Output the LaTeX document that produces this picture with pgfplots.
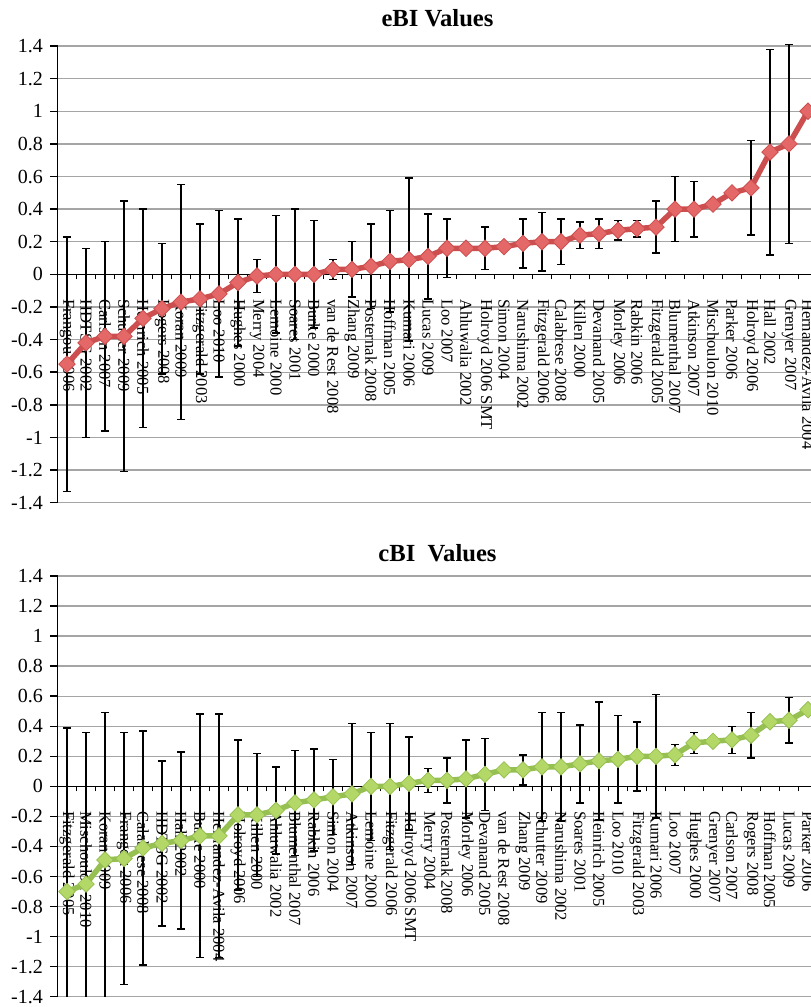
\documentclass[border=0pt]{standalone}
\usepackage{fontspec}
\setmainfont{Liberation Serif}
\usepackage{pgfplots}
\usepackage{pgfplotstable}
\pgfplotsset{compat=1.18}
\definecolor{redline}{RGB}{205,78,78}
\definecolor{redfill}{RGB}{228,104,104}
\definecolor{greenline}{RGB}{150,192,82}
\definecolor{greenfill}{RGB}{180,216,104}
\definecolor{gridgray}{RGB}{165,165,165}

% x: category index, y: value, e: half-width of error bar
\pgfplotstableread{
x y e
0 -0.55 0.78
1 -0.42 0.58
2 -0.38 0.58
3 -0.38 0.83
4 -0.27 0.67
5 -0.21 0.40
6 -0.17 0.72
7 -0.15 0.46
8 -0.12 0.51
9 -0.05 0.39
10 -0.01 0.10
11 0.00 0.36
12 0.00 0.40
13 0.00 0.33
14 0.03 0.06
15 0.03 0.17
16 0.05 0.26
17 0.08 0.31
18 0.09 0.50
19 0.11 0.26
20 0.16 0.18
21 0.16 0
22 0.16 0.13
23 0.17 0
24 0.19 0.15
25 0.20 0.18
26 0.20 0.14
27 0.24 0.08
28 0.25 0.09
29 0.27 0.06
30 0.28 0.05
31 0.29 0.16
32 0.40 0.20
33 0.40 0.17
34 0.43 0
35 0.50 0
36 0.53 0.29
37 0.75 0.63
38 0.80 0.61
39 1.00 0
}\ebi

\pgfplotstableread{
x y e
0 -0.70 1.09
1 -0.65 1.01
2 -0.49 0.98
3 -0.48 0.84
4 -0.41 0.78
5 -0.38 0.55
6 -0.36 0.59
7 -0.33 0.81
8 -0.33 0.81
9 -0.19 0.50
10 -0.19 0.41
11 -0.16 0.29
12 -0.11 0.35
13 -0.09 0.34
14 -0.07 0.25
15 -0.05 0.47
16 0.00 0.36
17 0.00 0.42
18 0.02 0.31
19 0.04 0.08
20 0.04 0.15
21 0.05 0.26
22 0.08 0.24
23 0.11 0
24 0.11 0.10
25 0.13 0.36
26 0.13 0.36
27 0.15 0.26
28 0.17 0.39
29 0.18 0.29
30 0.20 0.23
31 0.20 0.41
32 0.21 0.07
33 0.29 0.07
34 0.30 0
35 0.31 0.09
36 0.34 0.15
37 0.43 0
38 0.44 0.15
39 0.51 0
}\cbi

\pgfplotsset{
  panel/.style={
    scale only axis, width=380pt,
    xmin=-0.5, xmax=39.5, ymin=-1.4, ymax=1.4,
    axis x line*=middle, axis y line*=left,
    axis line style={black, line width=0.75pt},
    tick align=outside,
    major tick length=3.8pt, minor tick length=2.5pt,
    ytick={-1.4,-1.2,-1,-0.8,-0.6,-0.4,-0.2,0,0.2,0.4,0.6,0.8,1,1.2,1.4},
    yticklabels={-1.4,-1.2,-1,-0.8,-0.6,-0.4,-0.2,0,0.2,0.4,0.6,0.8,1,1.2,1.4},
    yticklabel style={font=\fontsize{10}{12}\selectfont},
    ytick style={black, line width=0.75pt},
    ymajorgrids, grid style={gridgray, line width=0.7pt},
    xtick={0,...,39}, minor x tick num=1,
    major x tick style={draw=none},
    minor x tick style={black, line width=0.7pt},
    xticklabel style={rotate=-90, anchor=west, font=\fontsize{8.3}{10}\selectfont, execute at begin node={\hspace*{5pt}}},
    title style={font=\fontsize{12.3}{14}\selectfont\bfseries, at={(axis description cs:0.5,1)}, anchor=center},
  },
  series/.style n args={2}{
    line width=2.75pt, color=#1,
    mark=square*, mark size=2.9pt,
    mark options={solid, rotate=45, fill=#2, draw=#1, line width=0.4pt},
    error bars/.cd, y dir=both, y explicit,
    error bar style={black, line width=0.75pt, solid},
    error mark options={rotate=90, black, mark size=1.8pt, line width=0.75pt},
  },
}

\begin{document}
\begin{tikzpicture}
\begin{axis}[panel, height=228.35pt, anchor=south west, at={(28.75pt,-251.35pt)},
  clip=false,
  title={eBI Values}, title style={yshift=8pt},
  xticklabels={Frangou 2006, HDTSG 2002, Carlson 2007, Schutter 2009, Heinrich 2005, Rogers 2008, Koran 2009, Fitzgerald 2003, Loo 2010, Hughes 2000, Merry 2004, Lemoine 2000, Soares 2001, Burke 2000, van de Rest 2008, Zhang 2009, Posternak 2008, Hoffman 2005, Kumari 2006, Lucas 2009, Loo 2007, Ahluwalia 2002, Holroyd 2006 SMT, Simon 2004, Narushima 2002, Fitzgerald 2006, Calabrese 2008, Killen 2000, Devanand 2005, Morley 2006, Rabkin 2006, Fitzgerald 2005, Blumenthal 2007, Atkinson 2007, Mischoulon 2010, Parker 2006, Holroyd 2006, Hall 2002, Grenyer 2007, Hernandez-Avila 2004},
]
\addplot[series={redline}{redfill}] table[x=x, y=y, y error=e] {\ebi};
\end{axis}
\begin{axis}[panel, height=210.35pt, anchor=south west, at={(28.75pt,-498.35pt)},
  title={cBI\ \ Values}, title style={yshift=5.5pt},
  xticklabels={Fitzgerald 2005, Mischoulon 2010, Koran 2009, Frangou 2006, Calabrese 2008, HDTSG 2002, Hall 2002, Burke 2000, Hernandez-Avila 2004, Holroyd 2006, Killen 2000, Ahluwalia 2002, Blumenthal 2007, Rabkin 2006, Simon 2004, Atkinson 2007, Lemoine 2000, Fitzgerald 2006, Holroyd 2006 SMT, Merry 2004, Posternak 2008, Morley 2006, Devanand 2005, van de Rest 2008, Zhang 2009, Schutter 2009, Narushima 2002, Soares 2001, Heinrich 2005, Loo 2010, Fitzgerald 2003, Kumari 2006, Loo 2007, Hughes 2000, Grenyer 2007, Carlson 2007, Rogers 2008, Hoffman 2005, Lucas 2009, Parker 2006},
]
\addplot[series={greenline}{greenfill}] table[x=x, y=y, y error=e] {\cbi};
\end{axis}
\pgfresetboundingbox
\useasboundingbox (0pt,0pt) rectangle (405pt,-503.5pt);
\end{tikzpicture}
\end{document}
